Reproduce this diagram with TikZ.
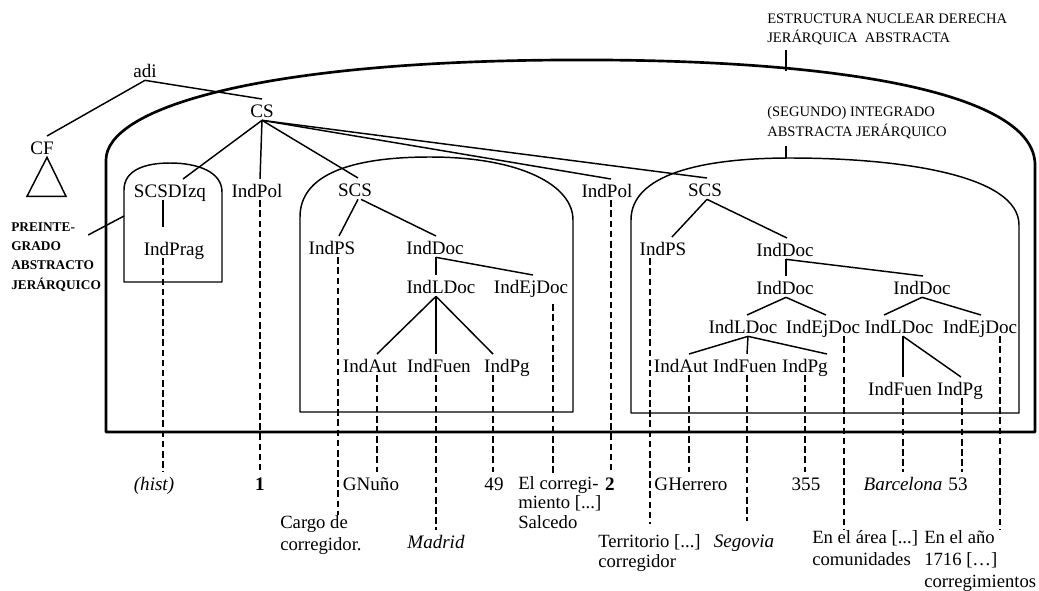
\documentclass[tikz,border=0pt]{standalone}
\usepackage{fontspec}
\setmainfont{Liberation Serif}
\begin{document}
\begin{tikzpicture}[x=0.75pt,y=-0.75pt,
  lbl/.style={font=\fontsize{14.3}{17}\selectfont, inner sep=0pt, outer sep=0pt,
              text height=13.5pt, text depth=2.5pt, anchor=base},
  note/.style={font=\fontsize{14}{#1}\selectfont, align=left, inner sep=0pt, anchor=north west},
  cap/.style={font=\fontsize{10.9}{#1}\selectfont, align=left, inner sep=0pt, anchor=north west},
  edge/.style={line width=1.1pt},
  lead/.style={line width=1.5pt, dash pattern=on 5pt off 2.6pt},
  shell/.style={line width=1.1pt, line join=round},
  outer/.style={line width=2pt, line join=round}]
\useasboundingbox (0,0) rectangle (1039,590);

% enclosing structure and the three integrated domains
\draw[outer] (106,432) -- (106,160) .. controls (106,110) and (250,62) .. (560,60)
  .. controls (850,58) and (1035,95) .. (1035,165) -- (1035,432) -- cycle;
\draw[shell] (124,282) -- (124,190) .. controls (124,170) and (145,163) .. (170,163)
  .. controls (198,163) and (222,172) .. (222,192) -- (222,282) -- cycle;
\draw[shell] (300,412) -- (300,217) .. controls (300,175) and (350,157) .. (430,157)
  .. controls (520,157) and (573,185) .. (573,220) -- (573,412) -- cycle;
\draw[shell] (631,413) -- (631,220) .. controls (631,175) and (700,158) .. (790,158)
  .. controls (900,158) and (1019,175) .. (1019,225) -- (1019,413) -- cycle;

% domain labels
\node[cap=14.3pt] (lblA) at (767,14) {ESTRUCTURA NUCLEAR DERECHA\\JERÁRQUICA\ \ ABSTRACTA};
\node[cap=15pt] (lblB) at (767,106) {(SEGUNDO) INTEGRADO\\ABSTRACTA JERÁRQUICO};
\node[cap=14.6pt, font=\bfseries\fontsize{10}{14.6}\selectfont] (lblC) at (11,222)
  {PREINTE-\\GRADO\\ABSTRACTO\\JERÁRQUICO};
\coordinate (outtop) at (786,71);
\coordinate (midtop) at (786,158);
\coordinate (smallside) at (124,216);
\draw[edge] (lblA.south -| outtop) ++(0,4) -- (outtop);
\draw[edge] (lblB.south -| midtop) ++(0,7) -- (midtop);
\draw[edge] ([shift={(-13,13)}]lblC.north east) -- (smallside);

% top of the tree
\node[lbl] (adi) at (145,77) {adi};
\node[lbl] (cs) at (262,117) {CS};
\node[lbl] (cf) at (42,154) {CF};
\draw[edge] (adi.south) -- ([shift={(5,0)}]cf.north);
\draw[edge] (adi.south) -- (cs.north);
\draw[edge, line join=miter] ([shift={(5,0)}]cf.south) -- ++(-20,39) -- ++(39,0) -- cycle;

\node[lbl] (scsd) at (170,197) {SCSDIzq};
\node[lbl] (pol1) at (257,197) {IndPol};
\node[lbl] (scsm) at (355,196) {SCS};
\node[lbl] (pol2) at (607,197) {IndPol};
\node[lbl] (scsr) at (705,196) {SCS};
\draw[edge] (cs.south) -- ([shift={(13,0)}]scsd.north);
\draw[edge] (cs.south) -- ([shift={(3,0)}]pol1.north);
\draw[edge] (cs.south) -- ([shift={(3,0)}]scsm.north);
\draw[edge] (cs.south) -- ([shift={(4,0)}]pol2.north);
\draw[edge] (cs.south) -- ([shift={(2,0)}]scsr.north);

% left pre-integrated domain
\node[lbl] (prag) at (174,255) {IndPrag};
\draw[edge] ([shift={(-7,0)}]scsd.south) -- ([shift={(-11,-10)}]prag.north);

% middle domain
\node[lbl] (psm) at (332,254) {IndPS};
\node[lbl] (docm) at (435,254) {IndDoc};
\draw[edge] ([shift={(3,0)}]scsm.south) -- ([shift={(7,0)}]psm.north);
\draw[edge] ([shift={(6,0)}]scsm.south) -- ([shift={(1,0)}]docm.north);
\node[lbl] (ldocm) at (441,293) {IndLDoc};
\node[lbl] (ejm) at (531,293) {IndEjDoc};
\draw[edge] ([shift={(1,0)}]docm.south) -- ([shift={(-5,0)}]ldocm.north);
\draw[edge] ([shift={(1,0)}]docm.south) -- ([shift={(2,0)}]ejm.north);
\node[lbl] (autm) at (370,372) {IndAut};
\node[lbl] (fuenm) at (439,372) {IndFuen};
\node[lbl] (pgm) at (507,372) {IndPg};
\draw[edge] ([shift={(-5,0)}]ldocm.south) -- ([shift={(7,0)}]autm.north);
\draw[edge] ([shift={(-5,0)}]ldocm.south) -- ([shift={(-3,0)}]fuenm.north);
\draw[edge] ([shift={(-5,0)}]ldocm.south) -- ([shift={(-14,0)}]pgm.north);

% right domain
\node[lbl] (psr) at (663,255) {IndPS};
\node[lbl] (doc1) at (785,256) {IndDoc};
\draw[edge] ([shift={(2,0)}]scsr.south) -- ([shift={(9,0)}]psr.north);
\draw[edge] ([shift={(2,0)}]scsr.south) -- ([shift={(2,0)}]doc1.north);
\node[lbl] (doc2) at (785,294) {IndDoc};
\node[lbl] (doc3) at (922,294) {IndDoc};
\draw[edge] ([shift={(1,0)}]doc1.south) -- ([shift={(1,0)}]doc2.north);
\draw[edge] ([shift={(1,0)}]doc1.south) -- ([shift={(1,0)}]doc3.north);
\node[lbl] (ldoca) at (743,333) {IndLDoc};
\node[lbl] (ejda) at (823,333) {IndEjDoc};
\node[lbl] (ldocb) at (899,333) {IndLDoc};
\node[lbl] (ejdb) at (980,333) {IndEjDoc};
\draw[edge] ([shift={(1,0)}]doc2.south) -- ([shift={(4,0)}]ldoca.north);
\draw[edge] ([shift={(1,0)}]doc2.south) -- ([shift={(3,0)}]ejda.north);
\draw[edge] (doc3.south) -- ([shift={(-15,0)}]ldocb.north);
\draw[edge] (doc3.south) -- ([shift={(1,0)}]ejdb.north);
\node[lbl] (auta) at (681,372) {IndAut};
\node[lbl] (fuena) at (745,372) {IndFuen};
\node[lbl] (pga) at (805,372) {IndPg};
\draw[edge] ([shift={(5,0)}]ldoca.south) -- ([shift={(8,0)}]auta.north);
\draw[edge] ([shift={(5,0)}]ldoca.south) -- ([shift={(2,0)}]fuena.north);
\draw[edge] ([shift={(5,0)}]ldoca.south) -- ([shift={(22,0)}]pga.north);
\node[lbl] (fuenb) at (900,395) {IndFuen};
\node[lbl] (pgb) at (960,395) {IndPg};
\draw[edge] ([shift={(4,0)}]ldocb.south) -- ([shift={(3,0)}]fuenb.north);
\draw[edge] ([shift={(4,0)}]ldocb.south) -- ([shift={(1,0)}]pgb.north);

% text values
\node[lbl] (hist) at (154,490) {\textit{(hist)}};
\node[lbl] (one) at (260,490) {\textbf{1}};
\node[lbl] (gnuno) at (371,490) {GNuño};
\node[lbl] (n49) at (494,490) {49};
\node[lbl] (two) at (610,490) {\textbf{2}};
\node[lbl] (gherrero) at (691,490) {GHerrero};
\node[lbl] (n355) at (806,490) {355};
\node[lbl] (barcelona) at (903,490) {\textit{Barcelona}};
\node[lbl] (n53) at (958,490) {53};
\node[lbl] (madrid) at (436,548) {\textit{Madrid}};
\node[lbl] (segovia) at (744,547) {\textit{Segovia}};
\node[note=16.5pt] (cargo) at (280,515) {Cargo de\\corregidor.};
\node[note=14.6pt] (elcorr) at (518,476) {El corregi-\\miento [...]\\Salcedo};
\node[note=15pt] (territorio) at (598,534) {Territorio [...]\\corregidor};
\node[note=17pt] (area) at (812,530) {En el área [...]\\comunidades};
\node[note=16.5pt] (anio) at (924,530) {En el año\\1716 […]\\corregimientos};

% dashed leads from the indices to their values
\draw[lead] ([shift={(-11,0)}]prag.south) -- ([shift={(-11,0)}]prag.south |- hist.north);
\draw[lead] ([shift={(3,0)}]pol1.south) -- ([shift={(3,0)}]pol1.south |- one.north);
\draw[lead] ([shift={(6,0)}]psm.south) -- ([shift={(6,0)}]psm.south |- cargo.north);
\draw[lead] ([shift={(7,0)}]autm.south) -- ([shift={(7,0)}]autm.south |- gnuno.north);
\draw[lead] ([shift={(-3,0)}]fuenm.south) -- ([shift={(-3,0)}]fuenm.south |- madrid.north);
\draw[lead] ([shift={(-14,0)}]pgm.south) -- ([shift={(-14,0)}]pgm.south |- n49.north);
\draw[lead] ([shift={(22,8)}]ejm.south) -- ([shift={(22,0)}]ejm.south |- elcorr.north);
\draw[lead] ([shift={(4,0)}]pol2.south) -- ([shift={(4,0)}]pol2.south |- two.north);
\draw[lead] ([shift={(-13,0)}]psr.south) -- ([shift={(-13,-10)}]psr.south |- territorio.north);
\draw[lead] ([shift={(8,0)}]auta.south) -- ([shift={(8,0)}]auta.south |- gherrero.north);
\draw[lead] ([shift={(2,0)}]fuena.south) -- ([shift={(2,-8)}]fuena.south |- segovia.north);
\draw[lead] (pga.south) -- (pga.south |- n355.north);
\draw[lead] ([shift={(21,0)}]ejda.south) -- ([shift={(21,0)}]ejda.south |- area.north);
\draw[lead] ([shift={(3,0)}]fuenb.south) -- ([shift={(3,0)}]fuenb.south |- barcelona.north);
\draw[lead] ([shift={(2,0)}]pgb.south) -- ([shift={(2,0)}]pgb.south |- n53.north);
\draw[lead] ([shift={(20,0)}]ejdb.south) -- ([shift={(20,0)}]ejdb.south |- anio.north);
\end{tikzpicture}
\end{document}
